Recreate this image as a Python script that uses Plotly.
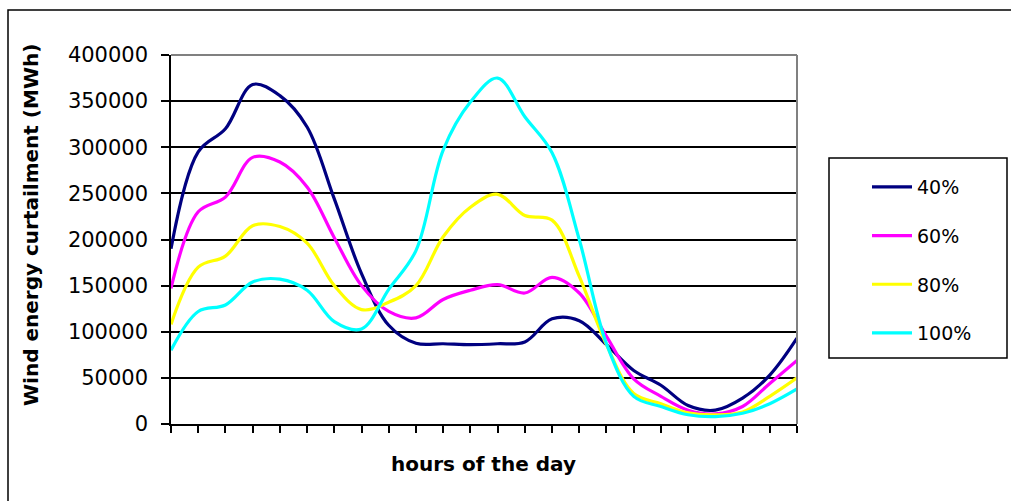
import plotly.graph_objects as go

# Hour of the day (1..24) and curtailed wind energy (MWh) per penetration scenario
hours = list(range(1, 25))
series_names = ["40%", "60%", "80%", "100%"]
series_colors = ["#000080", "#FF00FF", "#FFFF00", "#00FFFF"]

curtail_40 = [190000, 295000, 320000, 368000, 356000, 322000, 244000, 163000,
              107000, 87500, 87000, 86000, 87000, 89000, 114000, 112000,
              86000, 58000, 42000, 20000, 15000, 28000, 53000, 93000]
curtail_60 = [147000, 230000, 246000, 289000, 284000, 257000, 202000, 150000,
              122000, 115000, 135000, 145000, 151000, 142000, 159000, 142000,
              95000, 49000, 30000, 15000, 11000, 19000, 44000, 69000]
curtail_80 = [108000, 170000, 182000, 215000, 214000, 196000, 150000, 124000,
              132000, 150000, 203000, 235000, 249000, 226000, 221000, 160000,
              86000, 33000, 22000, 12000, 10000, 13000, 30000, 50000]
curtail_100 = [80000, 122000, 129000, 154000, 157000, 145000, 111000, 103000,
               146000, 188000, 297000, 349000, 375000, 333000, 294000, 200000,
               87000, 30000, 19000, 10000, 8000, 11600, 22000, 38000]

y_ticks = list(range(0, 400001, 50000))

W, H = 1011, 501
L, R, T, B = 171, 214, 55, 77
PW, PH = W - L - R, H - T - B


def px_x(p):
    return (p - L) / PW


def px_y(p):
    return (H - B - p) / PH


fig = go.Figure()
for name, color, vals in zip(series_names, series_colors,
                             [curtail_40, curtail_60, curtail_80, curtail_100]):
    fig.add_trace(go.Scatter(
        x=hours, y=vals, name=name, mode="lines",
        line=dict(color=color, width=3.2, shape="spline", smoothing=1.0),
        legendgroup=name,
    ))

fig.update_layout(
    width=W, height=H,
    margin=dict(l=L, r=R, t=T, b=B, pad=0),
    paper_bgcolor="white", plot_bgcolor="white",
    font=dict(family="DejaVu Sans", color="black"),
    showlegend=True,
    legend=dict(
        x=px_x(867), xanchor="left",
        y=px_y(168), yanchor="top",
        font=dict(family="DejaVu Sans", size=19, color="black"),
        bgcolor="rgba(0,0,0,0)", borderwidth=0,
        tracegroupgap=21, traceorder="grouped", itemwidth=40,
    ),
    xaxis=dict(
        range=[1, 24], tickvals=hours, showticklabels=False,
        ticks="outside", ticklen=7, tickwidth=1.5, tickcolor="black",
        showline=True, linecolor="black", linewidth=1.5,
        showgrid=False, zeroline=False, fixedrange=True,
    ),
    yaxis=dict(
        range=[0, 400000], tickvals=y_ticks,
        ticktext=[str(v) for v in y_ticks],
        ticks="outside", ticklen=8, tickwidth=1.5, tickcolor="black",
        tickfont=dict(family="DejaVu Sans", size=21, color="black"),
        ticklabelstandoff=9,
        showline=True, linecolor="black", linewidth=1.5,
        showgrid=True, gridcolor="black", gridwidth=1.5,
        zeroline=False, fixedrange=True,
    ),
    shapes=[
        # outer chart frame
        dict(type="rect", xref="paper", yref="paper",
             x0=px_x(8), x1=px_x(1030), y0=px_y(520), y1=px_y(10),
             line=dict(color="black", width=1.5), fillcolor="rgba(0,0,0,0)",
             layer="below"),
        # plot area border (top and right)
        dict(type="line", xref="paper", yref="paper", x0=0, x1=1, y0=1, y1=1,
             line=dict(color="#808080", width=2)),
        dict(type="line", xref="paper", yref="paper", x0=1, x1=1, y0=0, y1=1,
             line=dict(color="#808080", width=2)),
        # legend frame
        dict(type="rect", xref="paper", yref="paper",
             x0=px_x(829), x1=px_x(1007), y0=px_y(358), y1=px_y(158),
             line=dict(color="black", width=1.5), fillcolor="rgba(0,0,0,0)"),
    ],
    annotations=[
        dict(text="<b>Wind energy curtailment (MWh)</b>", textangle=-90,
             xref="paper", yref="paper", x=px_x(31), y=px_y(225),
             xanchor="center", yanchor="middle", showarrow=False,
             font=dict(family="DejaVu Sans", size=20, color="black")),
        dict(text="<b>hours of the day</b>",
             xref="paper", yref="paper", x=px_x(483), y=px_y(464),
             xanchor="center", yanchor="middle", showarrow=False,
             font=dict(family="DejaVu Sans", size=20, color="black")),
    ],
)

fig.write_html("out.html")
